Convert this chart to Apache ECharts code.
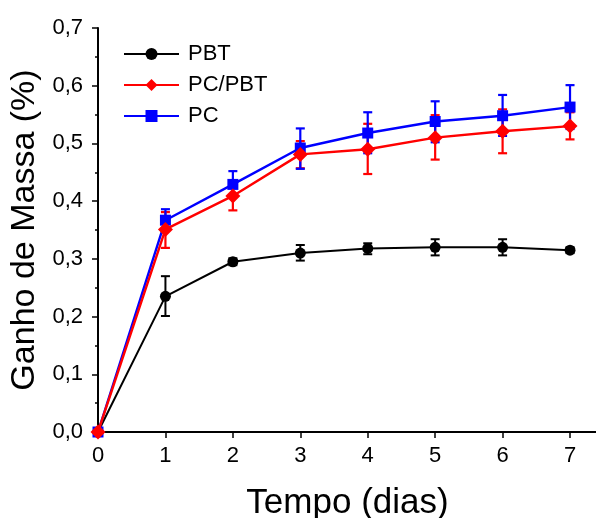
<!DOCTYPE html>
<html><head><meta charset="utf-8">
<script src="https://cdn.jsdelivr.net/npm/echarts@6/dist/echarts.min.js"></script>
<style>html,body{margin:0;padding:0;background:#fff}#c{width:596px;height:518px}</style>
</head><body><div id="c"></div>
<script>
var days = [0, 1, 2, 3, 4, 5, 6, 7];
var pbt     = [0, 0.235, 0.295, 0.310, 0.318, 0.320, 0.320, 0.315];
var pbtLow  = [0, 0.201, 0.289, 0.297, 0.308, 0.306, 0.306, 0.310];
var pbtHigh = [0, 0.270, 0.301, 0.324, 0.327, 0.334, 0.334, 0.320];
var pcpbt     = [0, 0.351, 0.409, 0.481, 0.490, 0.510, 0.521, 0.530];
var pcpbtLow  = [0, 0.319, 0.384, 0.457, 0.447, 0.472, 0.483, 0.507];
var pcpbtHigh = [0, 0.381, 0.431, 0.504, 0.534, 0.549, 0.559, 0.554];
var pc     = [0, 0.367, 0.429, 0.492, 0.518, 0.538, 0.548, 0.563];
var pcLow  = [0, 0.350, 0.409, 0.456, 0.483, 0.502, 0.513, 0.525];
var pcHigh = [0, 0.386, 0.452, 0.526, 0.554, 0.573, 0.584, 0.601];
var yTicks = [0, 0.1, 0.2, 0.3, 0.4, 0.5, 0.6, 0.7];

var FONT = 'Liberation Sans, Arial, sans-serif';
function pts(v){ return days.map(function(d,i){return [d, v[i]];}); }
function errData(lo, hi){ return days.map(function(d,i){return [d, lo[i], hi[i]];}); }
function errSeries(name, color, lo, hi, w){
  return {
    type: 'custom', name: name + ' err', silent: true, z: 3,
    data: errData(lo, hi),
    encode: {x: 0, y: [1, 2]},
    renderItem: function(params, api){
      var x = api.value(0);
      var a = api.coord([x, api.value(1)]);
      var b = api.coord([x, api.value(2)]);
      var hw = 4.5;
      var st = {stroke: color, lineWidth: w};
      return {type: 'group', children: [
        {type:'line', shape:{x1:a[0], y1:a[1], x2:b[0], y2:b[1]}, style: st},
        {type:'line', shape:{x1:a[0]-hw, y1:a[1], x2:a[0]+hw, y2:a[1]}, style: st},
        {type:'line', shape:{x1:b[0]-hw, y1:b[1], x2:b[0]+hw, y2:b[1]}, style: st}
      ]};
    }
  };
}
var chart = echarts.init(document.getElementById('c'), null, {renderer: 'canvas'});
chart.setOption({
  animation: false,
  backgroundColor: '#fff',
  textStyle: {fontFamily: FONT},
  grid: {left: 98, right: -1, top: 28, bottom: 86, containLabel: false, outerBoundsMode: 'none'},
  legend: {
    orient: 'vertical', left: 123, top: 43, itemGap: 9, padding: 0,
    itemWidth: 55, itemHeight: 15,
    data: ['PBT', 'PC/PBT', 'PC'],
    textStyle: {fontSize: 22, color: '#000', fontFamily: FONT, padding: [0,0,0,4]}
  },
  xAxis: [{
    type: 'value', min: 0, max: 7.4, interval: 1,
    name: 'Tempo (dias)', nameLocation: 'middle', nameGap: 54,
    nameTextStyle: {fontSize: 35, color: '#000', fontFamily: FONT},
    axisLine: {show: true, onZero: false, lineStyle: {color: '#000', width: 2}},
    axisTick: {show: true, length: 6, lineStyle: {color: '#000', width: 1.5}},
    axisLabel: {fontSize: 22, color: '#000', margin: 13, fontFamily: FONT,
      formatter: function(v){ return (v % 1 === 0 && v <= 7) ? String(v) : ''; }},
    splitLine: {show: false}
  }, {
    type: 'value', position: 'top', min: 0, max: 7.4,
    axisLine: {show: true, lineStyle: {color: '#000', width: 2}},
    axisTick: {show: false}, axisLabel: {show: false}, splitLine: {show: false}
  }],
  yAxis: {
    type: 'value', min: 0, max: 0.7, interval: 0.1,
    name: 'Ganho de Massa (%)', nameLocation: 'middle', nameGap: 50, nameRotate: 90,
    nameTextStyle: {fontSize: 34, color: '#000', fontFamily: FONT},
    axisLine: {show: true, onZero: false, lineStyle: {color: '#000', width: 2}},
    axisTick: {show: true, length: 6, lineStyle: {color: '#000', width: 1.5}},
    minorTick: {show: true, splitNumber: 2, length: 3, lineStyle: {color: '#000', width: 1.5}},
    axisLabel: {fontSize: 22, color: '#000', margin: 15, fontFamily: FONT,
      formatter: function(v){ return v.toFixed(1).replace('.', ','); }},
    splitLine: {show: false}
  },
  series: [
    {name: 'PBT', type: 'line', data: pts(pbt), color: '#000', symbol: 'circle', symbolSize: 11,
     lineStyle: {width: 2, color: '#000'}, itemStyle: {color: '#000'}, z: 4},
    errSeries('PBT', '#000', pbtLow, pbtHigh, 2),
    {name: 'PC/PBT', type: 'line', data: pts(pcpbt), color: '#ff0000', symbol: 'diamond', symbolSize: 15,
     lineStyle: {width: 2.4, color: '#ff0000'}, itemStyle: {color: '#ff0000'}, z: 5},
    errSeries('PC/PBT', '#ff0000', pcpbtLow, pcpbtHigh, 2.2),
    {name: 'PC', type: 'line', data: pts(pc), color: '#0000ff', symbol: 'rect', symbolSize: 11,
     lineStyle: {width: 2.4, color: '#0000ff'}, itemStyle: {color: '#0000ff'}, z: 4},
    errSeries('PC', '#0000ff', pcLow, pcHigh, 2.2)
  ]
});
</script></body></html>
